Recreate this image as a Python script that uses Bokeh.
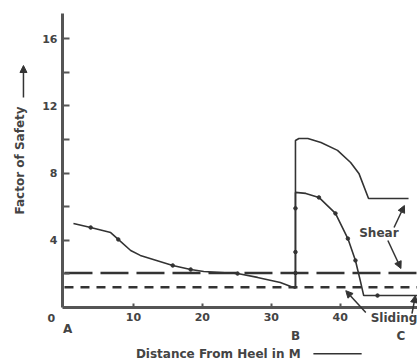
import numpy as np
from bokeh.plotting import figure
from bokeh.models import FixedTicker, Label, Arrow, NormalHead, Range1d
from bokeh.embed import file_html
from bokeh.resources import INLINE

# ---- data ----
left_x = [1.3, 3.8, 6.7, 7.8, 9.6, 11.0, 15.7, 18.3, 20.2, 25.1, 28.0, 31.3, 33.5]
left_y = [5.0, 4.76, 4.46, 4.05, 3.39, 3.1, 2.5, 2.26, 2.14, 2.02, 1.79, 1.49, 1.15]
left_mx = [3.8, 7.8, 15.7, 18.3, 25.1]
left_my = [4.76, 4.05, 2.5, 2.26, 2.02]

shear_x = [33.5, 33.5, 34.0, 35.3, 37.2, 39.6, 41.5, 42.7, 44.1, 49.9]
shear_y = [1.15, 9.94, 10.06, 10.06, 9.82, 9.35, 8.63, 7.98, 6.49, 6.49]

slide_x = [33.5, 33.5, 35.0, 36.9, 39.3, 41.1, 42.2, 42.9, 43.4, 45.4, 51.2]
slide_y = [1.15, 6.85, 6.79, 6.55, 5.6, 4.1, 2.8, 1.6, 0.71, 0.71, 0.71]
slide_mx = [33.5, 33.5, 33.5, 36.9, 39.3, 41.1, 42.2, 45.4]
slide_my = [2.05, 3.3, 5.9, 6.55, 5.6, 4.1, 2.8, 0.71]

shear_limit = 2.05     # long-dash line
slide_limit = 1.2      # short-dash line

y_ticks = [4, 8, 12, 16]
y_minor = [2, 6, 10, 14]
x_ticks = [10, 20, 30, 40]

FONT = "DejaVu Sans"
INK = "#333333"
AXC = "#555555"
TXT = "#444444"

X0, X1 = -0.29, 51.2
Y0, Y1 = 0.0, 17.5

p = figure(width=417, height=360, output_backend="svg", toolbar_location=None,
           x_range=Range1d(-9.28, 51.2), y_range=Range1d(-3.155, 18.27),
           min_border_left=0, min_border_right=0, min_border_top=0,
           min_border_bottom=0)
p.outline_line_color = None
p.xgrid.visible = False
p.ygrid.visible = False
p.background_fill_color = "white"

for ax in (p.xaxis[0], p.yaxis[0]):
    ax.axis_line_width = 3
    ax.axis_line_color = AXC
    ax.major_tick_line_color = AXC
    ax.minor_tick_line_color = AXC
    ax.major_tick_line_width = 2
    ax.minor_tick_line_width = 2
    ax.major_label_text_font = FONT
    ax.major_label_text_font_style = "bold"
    ax.major_label_text_font_size = "11px"
    ax.major_label_text_color = TXT
    ax.major_tick_out = 0

p.yaxis.fixed_location = X0
p.yaxis.bounds = (Y0, Y1)
p.yaxis.ticker = FixedTicker(ticks=y_ticks, minor_ticks=y_minor)
p.yaxis.major_tick_in = 7
p.yaxis.minor_tick_in = 7
p.yaxis.minor_tick_out = 0
p.yaxis.major_label_standoff = 5

p.xaxis.fixed_location = Y0
p.xaxis.bounds = (X0, X1)
p.xaxis.ticker = FixedTicker(ticks=x_ticks, minor_ticks=[])
p.xaxis.major_tick_in = 4
p.xaxis.major_label_standoff = 6

# limit lines
p.line([0, X1], [shear_limit, shear_limit], line_color=INK, line_width=2.5, line_dash="28 8")
p.line([0, X1], [slide_limit, slide_limit], line_color=INK, line_width=2.5, line_dash="9 7")

# curves
p.line(left_x, left_y, line_color=INK, line_width=1.6)
p.line(shear_x, shear_y, line_color=INK, line_width=1.6)
p.line(slide_x, slide_y, line_color=INK, line_width=1.6)
p.scatter(left_mx, left_my, size=3.5, color=INK)
p.scatter(slide_mx, slide_my, size=3.5, color=INK)

def lab(x, y, t, size="12px", angle=0.0, align="center"):
    p.add_layout(Label(x=x, y=y, text=t, text_font=FONT, text_font_style="bold",
                       text_font_size=size, text_color=TXT, angle=angle,
                       text_align=align, text_baseline="middle"))

lab(-1.9, -0.6, "0", size="11px")
lab(0.45, -1.3, "A")
lab(33.5, -1.67, "B")
lab(48.8, -1.67, "C")
lab(45.6, 4.46, "Shear")
lab(47.8, -0.65, "Sliding")
lab(22.3, -2.76, "Distance From Heel in M")
lab(-6.4, 8.75, "Factor of Safety", angle=np.pi / 2)

def arr(x0, y0, x1, y1, head=True):
    p.add_layout(Arrow(x_start=x0, y_start=y0, x_end=x1, y_end=y1,
                       line_color=INK, line_width=1.5,
                       end=NormalHead(size=7, fill_color=INK, line_color=INK) if head else None))

arr(47.8, 4.76, 49.3, 6.07)
arr(46.9, 3.99, 48.8, 2.32)
arr(43.7, -0.3, 40.8, 1.0)
arr(50.4, -0.36, 50.9, 0.71)
arr(36.1, -2.76, 43.1, -2.76, head=False)
arr(-5.95, 12.5, -5.95, 14.4)

open("out.html", "w").write(file_html(p, INLINE))
